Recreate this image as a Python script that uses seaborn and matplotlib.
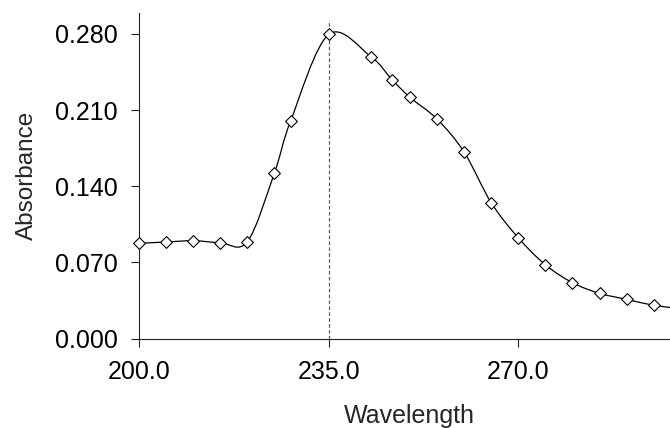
import numpy as np
import seaborn as sns
import matplotlib.pyplot as plt
from matplotlib.path import Path
from matplotlib.patches import PathPatch
from matplotlib.ticker import FormatStrFormatter

# spectrum (last point lies just past the visible range)
wavelength = [200, 205, 210, 215, 220, 225, 228, 235, 242.8, 246.7, 250, 255,
              260, 265, 270, 275, 280, 285, 290, 295, 300]
absorbance = [0.0875, 0.0887, 0.0899, 0.0881, 0.0890, 0.1524, 0.2002, 0.2795,
              0.2590, 0.2379, 0.2217, 0.2017, 0.1714, 0.1248, 0.0926, 0.0678,
              0.0513, 0.0415, 0.0360, 0.0305, 0.0275]
x_ticks = [200, 235, 270]
y_ticks = [0.0, 0.07, 0.14, 0.21, 0.28]


def smooth_path(xs, ys):
    # Catmull-Rom curve through the points, drawn as cubic Bezier segments
    pts = np.column_stack([xs, ys])
    n = len(pts)
    verts = [tuple(pts[0])]
    codes = [Path.MOVETO]
    for i in range(n - 1):
        p0 = pts[i - 1] if i > 0 else pts[i]
        p1, p2 = pts[i], pts[i + 1]
        p3 = pts[i + 2] if i + 2 < n else pts[i + 1]
        c1 = p1 + (p2 - p0) / 6
        c2 = p2 - (p3 - p1) / 6
        verts += [tuple(c1), tuple(c2), tuple(p2)]
        codes += [Path.CURVE4] * 3
    return Path(verts, codes)


sns.set_style("ticks")
plt.rcParams['font.family'] = ['Liberation Sans', 'DejaVu Sans']

fig = plt.figure(figsize=(6.7, 4.28), dpi=100)
ax = fig.add_axes([0.2075, 0.2091, 0.7925, 0.7605])

ax.add_patch(PathPatch(smooth_path(wavelength, absorbance), facecolor='none',
                       edgecolor='black', lw=0.9, zorder=2))
sns.scatterplot(x=wavelength, y=absorbance, marker='D', s=36, color='white',
                edgecolor='black', linewidth=0.8, clip_on=False, zorder=3, ax=ax)

peak_x = wavelength[int(np.argmax(absorbance))]
ax.axvline(peak_x, ymax=0.978, color='#555555', lw=0.85, ls=(0, (3, 2)), zorder=1)

ax.set_xlim(200, 298)
ax.set_ylim(0, 0.2992)
ax.set_xticks(x_ticks)
ax.set_yticks(y_ticks)
ax.xaxis.set_major_formatter(FormatStrFormatter('%.1f'))
ax.yaxis.set_major_formatter(FormatStrFormatter('%.3f'))
ax.tick_params(axis='both', labelsize=18, length=5.5, width=0.8, pad=10,
               color='#222222', labelcolor='black')

for side in ['top', 'right']:
    ax.spines[side].set_visible(False)
for side in ['left', 'bottom']:
    ax.spines[side].set_linewidth(0.8)
    ax.spines[side].set_color('#222222')

ax.set_xlabel('Wavelength', fontsize=18)
ax.set_ylabel('Absorbance', fontsize=17.5)
ax.xaxis.set_label_coords(0.51, -0.2)
ax.yaxis.set_label_coords(-0.19, 0.5)

fig.savefig('out.png', dpi=100)
